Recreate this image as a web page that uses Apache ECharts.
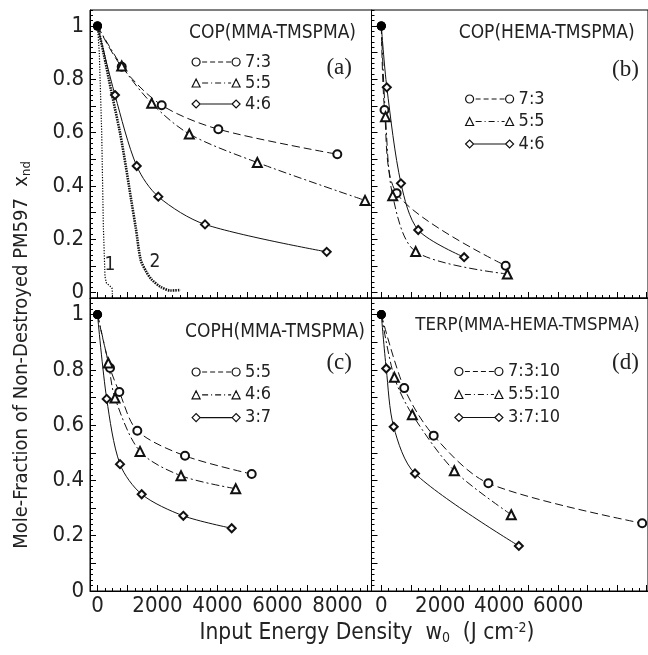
<!DOCTYPE html>
<html><head><meta charset="utf-8">
<script src="https://cdn.jsdelivr.net/npm/echarts@6/dist/echarts.min.js"></script>
<style>html,body{margin:0;padding:0;background:#fff}#c{width:648px;height:655px}</style>
</head><body><div id="c"></div>
<script>
// ---------- data ----------
// Panel (a) COP(MMA-TMSPMA)
const a73X = [0, 807, 2140, 4027, 7993];
const a73Y = [1, 0.847, 0.703, 0.613, 0.519];
const a55X = [0, 807, 1807, 3060, 5327, 8917];
const a55Y = [1, 0.85, 0.71, 0.595, 0.488, 0.346];
const a46X = [0, 583, 1307, 2027, 3583, 7640];
const a46Y = [1, 0.741, 0.475, 0.36, 0.256, 0.153];
const curve1X = [0, 60, 140, 195, 250, 300, 383, 480, 494, 494];
const curve1Y = [1, 0.9, 0.6, 0.25, 0.06, 0.035, 0.028, 0.018, 0.005, -0.02];
const curve2X = [0, 200, 450, 750, 950, 1120, 1280, 1440, 1620, 1800, 2100, 2440, 2770];
const curve2Y = [1, 0.9, 0.76, 0.6, 0.47, 0.35, 0.24, 0.123, 0.08, 0.05, 0.022, 0.008, 0.01];
// Panel (b) COP(HEMA-TMSPMA)
const b73X = [0, 110, 520, 4220];
const b73Y = [1, 0.685, 0.373, 0.101];
const b55X = [0, 143, 387, 1167, 4277];
const b55Y = [1, 0.66, 0.363, 0.154, 0.07];
const b46X = [0, 187, 667, 1253, 2810];
const b46Y = [1, 0.77, 0.41, 0.235, 0.133];
// Panel (c) COPH(MMA-TMSPMA)
const c55X = [0, 417, 727, 1327, 2917, 5140];
const c55Y = [1, 0.807, 0.72, 0.58, 0.489, 0.423];
const c46X = [0, 360, 583, 1417, 2783, 4607];
const c46Y = [1, 0.825, 0.698, 0.505, 0.417, 0.37];
const c37X = [0, 307, 750, 1473, 2860, 4473];
const c37Y = [1, 0.695, 0.459, 0.35, 0.272, 0.227];
// Panel (d) TERP(MMA-HEMA-TMSPMA)
const d73X = [0, 777, 1777, 3633, 8853];
const d73Y = [1, 0.734, 0.562, 0.39, 0.245];
const d55X = [0, 443, 1053, 2477, 4410];
const d55Y = [1, 0.773, 0.638, 0.435, 0.276];
const d37X = [0, 167, 420, 1143, 4667];
const d37Y = [1, 0.805, 0.594, 0.425, 0.163];

// ticks
const xLabelsLeft = [0, 2000, 4000, 6000, 8000];
const xLabelsRight = [0, 2000, 4000, 6000];
const yLabels = [0, 0.2, 0.4, 0.6, 0.8, 1];
const xMajorStep = 1000, xMinorStep = 250;
const yMajorStep = 0.1, yMinorStep = 0.02;

// ---------- helpers ----------
const FONT = "'Liberation Sans Narrow', 'Arial Narrow', 'DejaVu Sans Condensed', sans-serif";
const SERIF = "'Liberation Serif', 'DejaVu Serif', serif";
const INK = '#111';
const TXT = '#222';
function steps(lo, hi, st) { const r = []; for (let k = Math.ceil(lo / st - 1e-9); k * st <= hi + 1e-9; k++) r.push(+(k * st).toFixed(4)); return r; }
function pts(X, Y) { return X.map((x, k) => k === 0 && Y[k] === 1 && x === 0 ? { value: [x, Y[k]], symbol: 'circle', symbolSize: 9, itemStyle: { color: '#000' } } : [x, Y[k]]); }

const panels = [
  { left: 90, top: 10, width: 281.5, height: 288, xMin: -250, xMax: 9133, yMin: -0.02, yMax: 1.06, xl: null, yl: true },
  { left: 371.5, top: 10, width: 281.5, height: 288, xMin: -333, xMax: 9050, yMin: -0.02, yMax: 1.06, xl: null, yl: false },
  { left: 90, top: 298, width: 281.5, height: 293, xMin: -250, xMax: 9133, yMin: 0, yMax: 1.06, xl: xLabelsLeft, yl: true },
  { left: 371.5, top: 298, width: 281.5, height: 293, xMin: -333, xMax: 9050, yMin: 0, yMax: 1.06, xl: xLabelsRight, yl: false }
];

const grid = [], xAxis = [], yAxis = [];
panels.forEach((p, i) => {
  grid.push({ left: p.left, top: p.top, width: p.width, height: p.height, show: true, borderColor: '#000', borderWidth: 1, backgroundColor: 'transparent' });
  const xMaj = steps(0, p.xMax, xMajorStep), xMin = steps(0, p.xMax, xMinorStep);
  const yMaj = steps(Math.max(p.yMin, 0), p.yMax, yMajorStep), yMin = steps(p.yMin + 1e-6, p.yMax, yMinorStep);
  xAxis.push({
    type: 'value', gridIndex: i, min: p.xMin, max: p.xMax, position: 'bottom',
    axisLine: { show: true, onZero: false, lineStyle: { color: '#000', width: 1 } },
    axisTick: { show: true, inside: true, length: 6, customValues: xMaj, lineStyle: { color: '#000', width: 1 } },
    axisLabel: { show: !!p.xl, customValues: p.xl || [], margin: 4, fontSize: 22, fontFamily: FONT, color: TXT, formatter: v => String(v) },
    splitLine: { show: false }
  });
  xAxis.push({
    type: 'value', gridIndex: i, min: p.xMin, max: p.xMax, position: 'bottom',
    axisLine: { show: false, onZero: false },
    axisTick: { show: true, inside: true, length: 3, customValues: xMin, lineStyle: { color: '#000', width: 1 } },
    axisLabel: { show: false }, splitLine: { show: false }
  });
  yAxis.push({
    type: 'value', gridIndex: i, min: p.yMin, max: p.yMax, position: 'left',
    axisLine: { show: true, onZero: false, lineStyle: { color: '#000', width: 1 } },
    axisTick: { show: true, inside: true, length: 6, customValues: yMaj, lineStyle: { color: '#000', width: 1 } },
    axisLabel: { show: p.yl, customValues: yLabels, margin: 6, fontSize: 22, fontFamily: FONT, color: TXT,
      formatter: v => (Math.abs(v) < 1e-9 ? '0' : Math.abs(v - 1) < 1e-9 ? '1' : (+v).toFixed(1)) },
    splitLine: { show: false }
  });
  yAxis.push({
    type: 'value', gridIndex: i, min: p.yMin, max: p.yMax, position: 'left',
    axisLine: { show: false, onZero: false },
    axisTick: { show: true, inside: true, length: 3, customValues: yMin, lineStyle: { color: '#000', width: 1 } },
    axisLabel: { show: false }, splitLine: { show: false }
  });
});

const DASH = [8, 4], DASHDOT = [8, 3, 2, 3];
const STY = {
  circle: { symbol: 'emptyCircle', symbolSize: 8, type: DASH },
  tri: { symbol: 'emptyTriangle', symbolSize: 9, type: DASHDOT },
  diamond: { symbol: 'emptyDiamond', symbolSize: 8, type: 'solid' }
};
function mk(name, panel, X, Y, kind) {
  const s = STY[kind];
  return {
    name, type: 'line', xAxisIndex: panel * 2, yAxisIndex: panel * 2,
    data: pts(X, Y), symbol: s.symbol, symbolSize: s.symbolSize, showSymbol: true,
    smooth: 0.3, z: 3,
    itemStyle: { color: INK, borderWidth: 1.3 },
    lineStyle: { color: INK, width: 1, type: s.type },
    emphasis: { disabled: true }, animation: false
  };
}
const series = [
  mk('a 7:3', 0, a73X, a73Y, 'circle'),
  mk('a 5:5', 0, a55X, a55Y, 'tri'),
  mk('a 4:6', 0, a46X, a46Y, 'diamond'),
  { name: 'curve1', type: 'line', xAxisIndex: 0, yAxisIndex: 0, data: curve1X.map((x, k) => [x, curve1Y[k]]), symbol: 'none', smooth: false,
    lineStyle: { color: '#000', width: 1.2, type: [1.2, 1.5] }, animation: false, z: 2 },
  { name: 'curve2', type: 'line', xAxisIndex: 0, yAxisIndex: 0, data: curve2X.map((x, k) => [x, curve2Y[k]]), symbol: 'none', smooth: 0.3,
    lineStyle: { color: INK, width: 2.6, type: [1.5, 1] }, animation: false, z: 2 },
  mk('b 7:3', 1, b73X, b73Y, 'circle'),
  mk('b 5:5', 1, b55X, b55Y, 'tri'),
  mk('b 4:6', 1, b46X, b46Y, 'diamond'),
  mk('c 5:5', 2, c55X, c55Y, 'circle'),
  mk('c 4:6', 2, c46X, c46Y, 'tri'),
  mk('c 3:7', 2, c37X, c37Y, 'diamond'),
  mk('d 7:3:10', 3, d73X, d73Y, 'circle'),
  mk('d 5:5:10', 3, d55X, d55Y, 'tri'),
  mk('d 3:7:10', 3, d37X, d37Y, 'diamond')
];

// legend icons (48 x 8 box)
const cL = 'M0,4A4,4,0,1,1,8,4A4,4,0,1,1,0,4Z', cR = 'M40,4A4,4,0,1,1,48,4A4,4,0,1,1,40,4Z';
const tL = 'M0,8L4,0L8,8Z', tR = 'M40,8L44,0L48,8Z';
const dL = 'M0,4L4,0L8,4L4,8Z', dR = 'M40,4L44,0L48,4L44,8Z';
const dashes = 'M10,4L15,4M18,4L23,4M26,4L31,4M34,4L39,4';
const dashdot = 'M10,4L16,4M19,4L20,4M23,4L29,4M32,4L33,4M36,4L39,4';
const solid = 'M8,4L40,4';
const ICON = {
  circle: 'path://' + cL + dashes + cR,
  tri: 'path://' + tL + dashdot + tR,
  diamond: 'path://' + dL + solid + dR
};
function legend(names, kinds, left, top, gap) {
  return {
    orient: 'vertical', left, top, padding: 0, itemGap: gap, itemWidth: 48, itemHeight: 8,
    data: names.map((n, k) => ({ name: n, icon: ICON[kinds[k]] })),
    itemStyle: { color: 'rgba(0,0,0,0)', borderColor: INK, borderWidth: 1.2 },
    textStyle: { fontFamily: FONT, fontSize: 18, color: TXT },
    formatter: n => n.slice(2), selectedMode: false
  };
}
const K = ['circle', 'tri', 'diamond'];
const legends = [
  legend(['a 7:3', 'a 5:5', 'a 4:6'], K, 191.5, 53, 3),
  legend(['b 7:3', 'b 5:5', 'b 4:6'], K, 465, 90, 4.5),
  legend(['c 5:5', 'c 4:6', 'c 3:7'], K, 191.5, 363, 4.8),
  legend(['d 7:3:10', 'd 5:5:10', 'd 3:7:10'], K, 454.3, 362.5, 5)
];

function txt(x, y, text, size, fam, extra) {
  return Object.assign({ type: 'text', x, y, silent: true, z: 10,
    style: { text, fontSize: size, fontFamily: fam, fill: TXT, align: 'center', verticalAlign: 'middle' } }, extra || {});
}
const graphic = [
  txt(272.5, 33.3, 'COP(MMA-TMSPMA)', 19, FONT),
  txt(546.7, 33.3, 'COP(HEMA-TMSPMA)', 19, FONT),
  txt(275, 331.7, 'COPH(MMA-TMSPMA)', 19, FONT),
  txt(527.5, 325, 'TERP(MMA-HEMA-TMSPMA)', 18.5, FONT),
  txt(339.2, 68.3, '(a)', 23, SERIF),
  txt(625.5, 70, '(b)', 23, SERIF),
  txt(339.2, 363.3, '(c)', 23, SERIF),
  txt(625.5, 363.3, '(d)', 23, SERIF),
  txt(110, 265, '1', 19, FONT),
  txt(155, 262, '2', 19, FONT),
  { type: 'text', x: 22, y: 355, rotation: Math.PI / 2, silent: true,
    style: { text: '{m|Mole-Fraction of Non-Destroyed PM597  x}{s|nd}', align: 'center', verticalAlign: 'middle', fill: TXT,
      rich: { m: { fontSize: 20, fontFamily: FONT, fill: TXT }, s: { fontSize: 13, fontFamily: FONT, fill: TXT, padding: [9, 0, 0, 0] } } } },
  { type: 'text', x: 367, y: 633, silent: true,
    style: { text: '{m|Input Energy Density  w}{s|0}{m|  (J cm}{p|-2}{m|)}', align: 'center', verticalAlign: 'middle', fill: TXT,
      rich: { m: { fontSize: 22.5, fontFamily: FONT, fill: TXT }, s: { fontSize: 14, fontFamily: FONT, fill: TXT, padding: [10, 0, 0, 0] },
        p: { fontSize: 14, fontFamily: FONT, fill: TXT, padding: [0, 0, 10, 0] } } } }
];

const chart = echarts.init(document.getElementById('c'), null, { renderer: 'canvas' });
chart.setOption({ animation: false, backgroundColor: '#fff', grid, xAxis, yAxis, series, legend: legends, graphic });
</script></body></html>
